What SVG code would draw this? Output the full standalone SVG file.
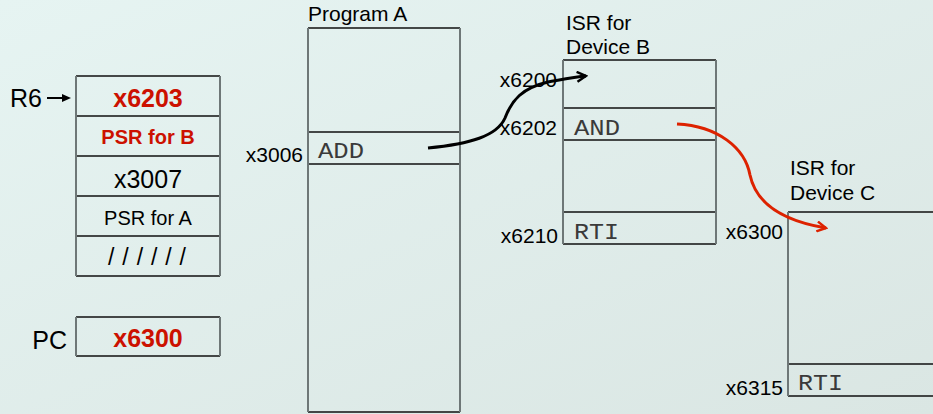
<svg xmlns="http://www.w3.org/2000/svg" width="933" height="414" viewBox="0 0 933 414">
<defs>
<linearGradient id="bg" x1="0" y1="0" x2="1" y2="1">
<stop offset="0" stop-color="#e6f4f2"/>
<stop offset="1" stop-color="#dae6e3"/>
</linearGradient>
<marker id="blk" viewBox="0 0 12 12" refX="10" refY="6" markerWidth="12" markerHeight="12" markerUnits="userSpaceOnUse" orient="auto">
<path d="M1,1 L10,6 L1,11" fill="none" stroke="#000" stroke-width="2.4"/>
</marker>
<marker id="red" viewBox="0 0 12 12" refX="10" refY="6" markerWidth="12" markerHeight="12" markerUnits="userSpaceOnUse" orient="auto">
<path d="M1,1 L10,6 L1,11" fill="none" stroke="#dd2200" stroke-width="2.4"/>
</marker>
</defs>
<style>
.t{font-family:"Liberation Sans",Arial,sans-serif;fill:#000}
.l{font-size:21px}
.m{font-family:"Liberation Mono","Courier New",monospace;fill:#3a3a3a;font-size:22.5px}
.h{stroke:#111;stroke-width:1.3;fill:none}
.v{stroke:#6e7777;stroke-width:2;fill:none}
.r{fill:#cc1100;font-weight:bold}
</style>
<rect width="933" height="414" fill="url(#bg)"/>

<g id="stack">
<path class="h" d="M76,76H220M76,116H220M76,156H220M76,196H220M76,236H220M76,276H220"/>
<path class="v" d="M76,76V276M220,76V276"/>
<text class="t r" x="148" y="107" font-size="25" text-anchor="middle">x6203</text>
<text class="t r" x="148" y="144" font-size="20" text-anchor="middle">PSR for B</text>
<text class="t" x="148" y="188" font-size="25" text-anchor="middle">x3007</text>
<text class="t" x="148" y="225" font-size="20" text-anchor="middle">PSR for A</text>
<text class="t" x="108" y="265" font-size="23" textLength="78" lengthAdjust="spacing">/ / / / / /</text>
<text class="t" x="42" y="107" font-size="25" text-anchor="end">R6</text>
<path d="M47,98H63" stroke="#000" stroke-width="2"/>
<path d="M62,94L71,98L62,102Z" fill="#000"/>
</g>

<g id="pc">
<path class="h" d="M76,317H220M76,356H220"/>
<path class="v" d="M76,317V356M220,317V356"/>
<text class="t" x="67" y="349" font-size="25" text-anchor="end">PC</text>
<text class="t r" x="148" y="347" font-size="25" text-anchor="middle">x6300</text>
</g>

<g id="programA">
<path class="h" d="M308,28H460M308,132H460M308,164H460M308,412H460"/>
<path class="v" d="M308,28V412M460,28V412"/>
<text class="t l" x="308" y="21">Program A</text>
<text class="t l" x="303" y="162" text-anchor="end">x3006</text>
<text class="m" x="318" y="158" textLength="46" lengthAdjust="spacingAndGlyphs">ADD</text>
</g>

<g id="isrB">
<path class="h" d="M563,60H716M563,108H716M563,140H716M563,212H716M563,244H716"/>
<path class="v" d="M563,60V244M716,60V244"/>
<text class="t l" x="566" y="30">ISR for</text>
<text class="t l" x="566" y="54">Device B</text>
<text class="t l" x="557" y="87" text-anchor="end">x6200</text>
<text class="t l" x="557" y="135" text-anchor="end">x6202</text>
<text class="t l" x="558" y="243" text-anchor="end">x6210</text>
<text class="m" x="574" y="135" textLength="46" lengthAdjust="spacingAndGlyphs">AND</text>
<text class="m" x="574" y="239" textLength="45" lengthAdjust="spacingAndGlyphs">RTI</text>
</g>

<g id="isrC">
<path class="h" d="M788,212H940M788,364H940M788,396H940"/>
<path class="v" d="M788,212V396"/>
<text class="t l" x="790" y="175">ISR for</text>
<text class="t l" x="790" y="200">Device C</text>
<text class="t l" x="783" y="239" text-anchor="end">x6300</text>
<text class="t l" x="783" y="395" text-anchor="end">x6315</text>
<text class="m" x="798" y="390" textLength="45" lengthAdjust="spacingAndGlyphs">RTI</text>
</g>

<g id="connectors">
<path d="M428,148 C470,144 497,136 505,118 C512,100 522,88 548,82 C565,79 575,77 586,76" fill="none" stroke="#000" stroke-width="3" marker-end="url(#blk)"/>
<path d="M677,124 C718,126 745,148 750,175 C757,208 790,222 826,228" fill="none" stroke="#dd2200" stroke-width="3" marker-end="url(#red)"/>
</g>
</svg>
